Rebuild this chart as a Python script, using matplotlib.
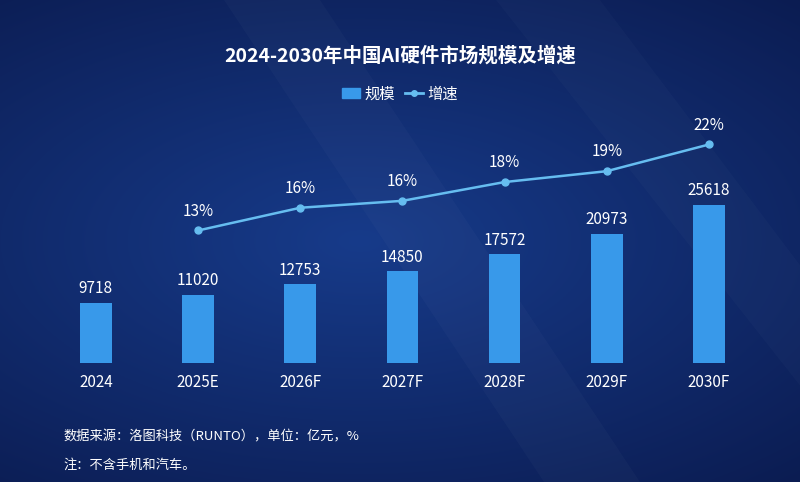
import numpy as np
import matplotlib.pyplot as plt
from matplotlib.lines import Line2D
from matplotlib.patches import Patch, Polygon

plt.rcParams['font.family'] = ['Noto Sans CJK SC', 'DejaVu Sans']

years = ['2024', '2025E', '2026F', '2027F', '2028F', '2029F', '2030F']
scale = [9718, 11020, 12753, 14850, 17572, 20973, 25618]
# growth rate (%), first year has none
growth = [None, 13.4, 15.7, 16.4, 18.3, 19.4, 22.1]
growth_labels = ['', '13%', '16%', '16%', '18%', '19%', '22%']

bar_color = '#3899ea'
line_color = '#66bdf0'
text_color = 'white'

fig = plt.figure(figsize=(8, 4.82), dpi=100)

# background gradient
bg = fig.add_axes([0, 0, 1, 1], zorder=-10)
yy, xx = np.mgrid[0:1:300j, 0:1:500j]
r = np.sqrt(((xx - 0.45) / 0.9) ** 2 + ((yy - 0.5) / 0.75) ** 2)
r = np.clip(r, 0, 1)
c_in = np.array([0x17, 0x3b, 0x8a]) / 255
c_out = np.array([0x0a, 0x19, 0x4c]) / 255
img = c_in[None, None, :] * (1 - r[..., None]) + c_out[None, None, :] * r[..., None]
bg.imshow(img, extent=[0, 1, 0, 1], aspect='auto', origin='upper')
# faint diagonal light streaks
bg.add_patch(Polygon([[0.28, 1], [0.40, 1], [0.80, 0], [0.68, 0]], closed=True,
                     color='white', alpha=0.025, lw=0))
bg.add_patch(Polygon([[0.62, 1], [0.75, 1], [1.0, 0.45], [1.0, 0.2]], closed=True,
                     color='white', alpha=0.02, lw=0))
bg.set_xlim(0, 1)
bg.set_ylim(0, 1)
bg.axis('off')

ax = fig.add_axes([0.056, 0.247, 0.894, 0.525])
ax.patch.set_alpha(0)
x = np.arange(len(years))
ax.bar(x, scale, width=0.31, color=bar_color, zorder=2)
for xi, v in zip(x, scale):
    ax.text(xi, v + 900, str(v), ha='center', va='bottom', color=text_color, fontsize=11)
ax.set_xlim(-0.5, len(years) - 0.5)
ax.set_ylim(0, 41000)
ax.set_xticks(x)
ax.set_xticklabels(years, color=text_color, fontsize=11)
ax.tick_params(axis='x', length=0, pad=8)
ax.set_yticks([])
for s in ax.spines.values():
    s.set_visible(False)

ax2 = ax.twinx()
gx = [xi for xi, g in zip(x, growth) if g is not None]
gv = [g for g in growth if g is not None]
ax2.plot(gx, gv, color=line_color, lw=1.8, marker='o', markersize=5,
         markerfacecolor=line_color, markeredgecolor=line_color, zorder=3)
for xi, g, lab in zip(x, growth, growth_labels):
    if g is not None:
        ax2.text(xi, g + 1.1, lab, ha='center', va='bottom', color=text_color, fontsize=11)
ax2.set_ylim(0, 25.6)
ax2.set_yticks([])
for s in ax2.spines.values():
    s.set_visible(False)

fig.text(0.5, 0.885, '2024-2030年中国AI硬件市场规模及增速', ha='center', va='center',
         color=text_color, fontsize=14, fontweight='bold')

handles = [Patch(color=bar_color),
           Line2D([0], [0], color=line_color, lw=2, marker='o', markersize=4)]
fig.legend(handles, ['规模', '增速'], loc='center', bbox_to_anchor=(0.5, 0.805), ncol=2,
           frameon=False, fontsize=11, labelcolor=text_color, handlelength=1.2,
           handleheight=0.6, handletextpad=0.3, columnspacing=0.6)

fig.text(0.079, 0.094, '数据来源：洛图科技（RUNTO），单位：亿元，%', ha='left', va='center',
         color=text_color, fontsize=9.5)
fig.text(0.079, 0.035, '注：不含手机和汽车。', ha='left', va='center',
         color=text_color, fontsize=9.5)

fig.savefig('out.png', dpi=100)
